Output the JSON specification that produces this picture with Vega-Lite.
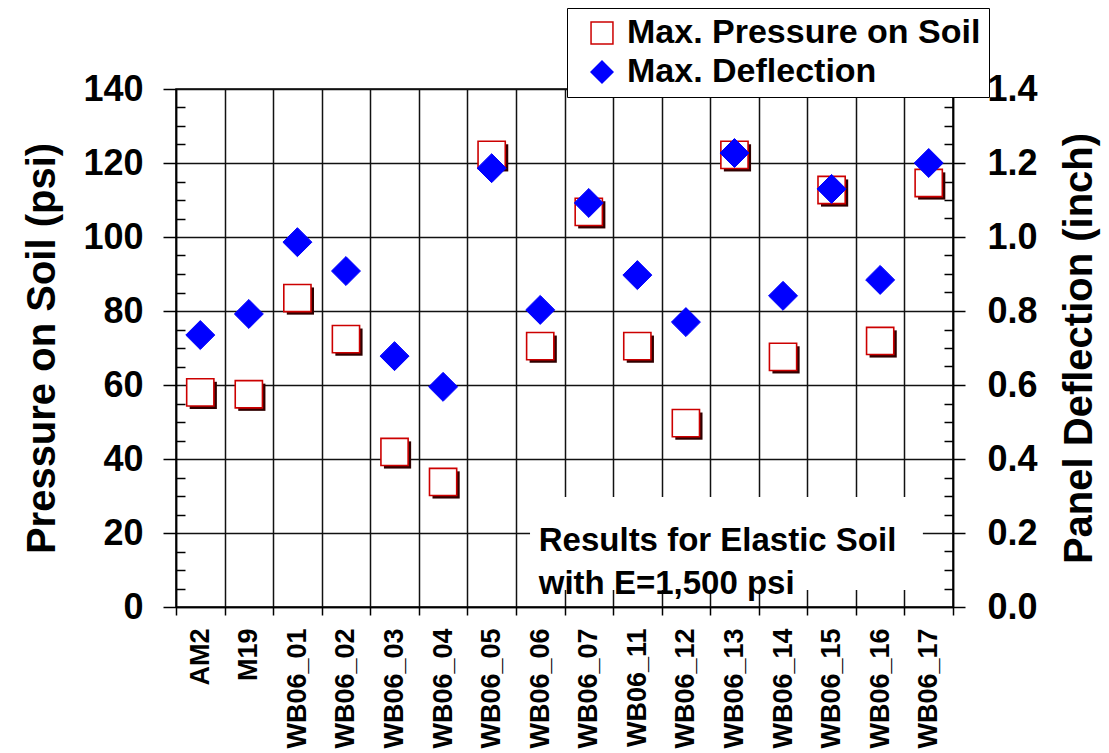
{
  "$schema": "https://vega.github.io/schema/vega-lite/v6.json",
  "width": 777,
  "height": 518,
  "autosize": {"type": "none"},
  "padding": {"left": 176, "top": 89, "right": 156, "bottom": 146},
  "background": "white",
  "config": {
    "font": "Liberation Sans",
    "view": {"stroke": "black", "strokeWidth": 1.5},
    "axis": {
      "labelFont": "Liberation Sans", "titleFont": "Liberation Sans",
      "labelFontWeight": "bold", "titleFontWeight": "bold",
      "labelColor": "black", "titleColor": "black",
      "tickColor": "black", "tickWidth": 1.5,
      "domainColor": "black", "domainWidth": 1.5,
      "gridColor": "#111111", "gridWidth": 1.5, "gridOpacity": 1
    },
    "legend": {"labelFont": "Liberation Sans", "labelLimit": 800}
  },
  "datasets": {
    "points": [
      {"id": "AM2", "series": "Max. Pressure on Soil", "value": 58},
      {"id": "M19", "series": "Max. Pressure on Soil", "value": 57.5},
      {"id": "WB06_01", "series": "Max. Pressure on Soil", "value": 83.5},
      {"id": "WB06_02", "series": "Max. Pressure on Soil", "value": 72.4},
      {"id": "WB06_03", "series": "Max. Pressure on Soil", "value": 41.9},
      {"id": "WB06_04", "series": "Max. Pressure on Soil", "value": 33.8},
      {"id": "WB06_05", "series": "Max. Pressure on Soil", "value": 122.2},
      {"id": "WB06_06", "series": "Max. Pressure on Soil", "value": 70.5},
      {"id": "WB06_07", "series": "Max. Pressure on Soil", "value": 106.8},
      {"id": "WB06_11", "series": "Max. Pressure on Soil", "value": 70.5},
      {"id": "WB06_12", "series": "Max. Pressure on Soil", "value": 49.7},
      {"id": "WB06_13", "series": "Max. Pressure on Soil", "value": 122.2},
      {"id": "WB06_14", "series": "Max. Pressure on Soil", "value": 67.6},
      {"id": "WB06_15", "series": "Max. Pressure on Soil", "value": 112.7},
      {"id": "WB06_16", "series": "Max. Pressure on Soil", "value": 71.9},
      {"id": "WB06_17", "series": "Max. Pressure on Soil", "value": 114.6},
      {"id": "AM2", "series": "Max. Deflection", "value": 0.735},
      {"id": "M19", "series": "Max. Deflection", "value": 0.792},
      {"id": "WB06_01", "series": "Max. Deflection", "value": 0.986},
      {"id": "WB06_02", "series": "Max. Deflection", "value": 0.908},
      {"id": "WB06_03", "series": "Max. Deflection", "value": 0.678},
      {"id": "WB06_04", "series": "Max. Deflection", "value": 0.595},
      {"id": "WB06_05", "series": "Max. Deflection", "value": 1.186},
      {"id": "WB06_06", "series": "Max. Deflection", "value": 0.803},
      {"id": "WB06_07", "series": "Max. Deflection", "value": 1.092},
      {"id": "WB06_11", "series": "Max. Deflection", "value": 0.897},
      {"id": "WB06_12", "series": "Max. Deflection", "value": 0.770},
      {"id": "WB06_13", "series": "Max. Deflection", "value": 1.227},
      {"id": "WB06_14", "series": "Max. Deflection", "value": 0.841},
      {"id": "WB06_15", "series": "Max. Deflection", "value": 1.130},
      {"id": "WB06_16", "series": "Max. Deflection", "value": 0.884},
      {"id": "WB06_17", "series": "Max. Deflection", "value": 1.200}
    ]
  },
  "data": {"name": "points"},
  "encoding": {
    "x": {
      "field": "id", "type": "nominal",
      "scale": {"domain": ["AM2","M19","WB06_01","WB06_02","WB06_03","WB06_04","WB06_05","WB06_06","WB06_07","WB06_11","WB06_12","WB06_13","WB06_14","WB06_15","WB06_16","WB06_17"], "paddingInner": 0, "paddingOuter": 0},
      "axis": {
        "title": null, "labelAngle": -90, "labelAlign": "right", "labelBaseline": "middle",
        "labelFontSize": 27, "labelPadding": 13, "tickBand": "extent", "tickSize": 8,
        "grid": true
      }
    }
  },
  "layer": [
    {
      "transform": [{"filter": "datum.series == 'Max. Pressure on Soil'"}],
      "mark": {"type": "point", "shape": "square", "filled": true, "color": "#300000", "size": 740, "xOffset": 3, "yOffset": 3, "opacity": 1},
      "encoding": {
        "y": {
          "field": "value", "type": "quantitative",
          "scale": {"domain": [0, 140], "nice": false},
          "axis": {"orient": "left", "values": [5,10,15,25,30,35,45,50,55,65,70,75,85,90,95,105,110,115,125,130,135], "tickSize": -9, "labels": false, "domain": false, "grid": false, "title": null}
        }
      }
    },
    {
      "transform": [{"filter": "datum.series == 'Max. Pressure on Soil'"}],
      "mark": {"type": "point", "filled": true, "size": 740, "strokeWidth": 1.6, "opacity": 1},
      "encoding": {
        "y": {
          "field": "value", "type": "quantitative",
          "scale": {"domain": [0, 140], "nice": false},
          "axis": {"orient": "left", "values": [0,20,40,60,80,100,120,140], "grid": true, "tickSize": 13, "labelFontSize": 36, "labelPadding": 20, "title": "Pressure on Soil (psi)", "titleFontSize": 40, "titlePadding": 20}
        },
        "shape": {"field": "series", "type": "nominal", "scale": {"domain": ["Max. Pressure on Soil", "Max. Deflection"], "range": ["square", "diamond"]}, "legend": {"title": null, "orient": "none", "legendX": 391, "legendY": -81, "padding": 8, "symbolOffset": 10, "labelFontSize": 34, "labelFontWeight": "bold", "labelColor": "black", "labelOffset": 8, "labelLimit": 800, "rowPadding": 5, "symbolSize": 480, "symbolStrokeWidth": 1.5, "fillColor": "white", "strokeColor": "black"}},
        "fill": {"field": "series", "type": "nominal", "scale": {"domain": ["Max. Pressure on Soil", "Max. Deflection"], "range": ["#ffffff", "#0000ff"]}, "legend": {"title": null, "orient": "none", "legendX": 391, "legendY": -81, "padding": 8, "symbolOffset": 10, "labelFontSize": 34, "labelFontWeight": "bold", "labelColor": "black", "labelOffset": 8, "labelLimit": 800, "rowPadding": 5, "symbolSize": 480, "symbolStrokeWidth": 1.5, "fillColor": "white", "strokeColor": "black"}},
        "stroke": {"field": "series", "type": "nominal", "scale": {"domain": ["Max. Pressure on Soil", "Max. Deflection"], "range": ["#cc0000", "#0000ff"]}, "legend": {"title": null, "orient": "none", "legendX": 391, "legendY": -81, "padding": 8, "symbolOffset": 10, "labelFontSize": 34, "labelFontWeight": "bold", "labelColor": "black", "labelOffset": 8, "labelLimit": 800, "rowPadding": 5, "symbolSize": 480, "symbolStrokeWidth": 1.5, "fillColor": "white", "strokeColor": "black"}}
      }
    },
    {
      "transform": [{"filter": "datum.series == 'Max. Deflection'"}],
      "mark": {"type": "point", "filled": true, "size": 840, "strokeWidth": 1, "opacity": 1},
      "encoding": {
        "y": {
          "field": "value", "type": "quantitative",
          "scale": {"domain": [0, 1.4], "nice": false},
          "axis": {"orient": "right", "values": [0,0.2,0.4,0.6,0.8,1.0,1.2,1.4], "format": ".1f", "grid": false, "tickSize": 12, "labelFontSize": 36, "labelPadding": 22, "title": "Panel Deflection (inch)", "titleFontSize": 40, "titleAngle": 270, "titleBaseline": "top", "titlePadding": 22}
        },
        "shape": {"field": "series", "type": "nominal"},
        "fill": {"field": "series", "type": "nominal"},
        "stroke": {"field": "series", "type": "nominal"}
      }
    },
    {
      "data": {"values": [{"note": "box"}]},
      "mark": {"type": "rect", "color": "white", "opacity": 1},
      "encoding": {
        "x": {"datum": "WB06_06", "bandPosition": 0.29},
        "x2": {"datum": "WB06_17", "bandPosition": 0.38},
        "y": {
          "datum": 0.046, "type": "quantitative",
          "scale": {"domain": [0, 1.4], "nice": false},
          "axis": {"orient": "right", "values": [0.05,0.1,0.15,0.25,0.3,0.35,0.45,0.5,0.55,0.65,0.7,0.75,0.85,0.9,0.95,1.05,1.1,1.15,1.25,1.3,1.35], "tickSize": -9, "labels": false, "domain": false, "grid": false, "title": null}
        },
        "y2": {"datum": 0.297}
      }
    },
    {
      "data": {"values": [{"note": "label"}]},
      "mark": {"type": "text", "align": "left", "baseline": "middle", "fontSize": 33, "fontWeight": "bold", "font": "Liberation Sans", "color": "black", "lineHeight": 43},
      "encoding": {
        "x": {"datum": "WB06_06", "bandPosition": 0.47},
        "y": {"datum": 0.178, "type": "quantitative", "scale": {"domain": [0, 1.4], "nice": false}, "axis": null},
        "text": {"value": ["Results for Elastic Soil", "with E=1,500 psi"]}
      }
    }
  ],
  "resolve": {"scale": {"y": "independent"}, "axis": {"y": "independent"}}
}
